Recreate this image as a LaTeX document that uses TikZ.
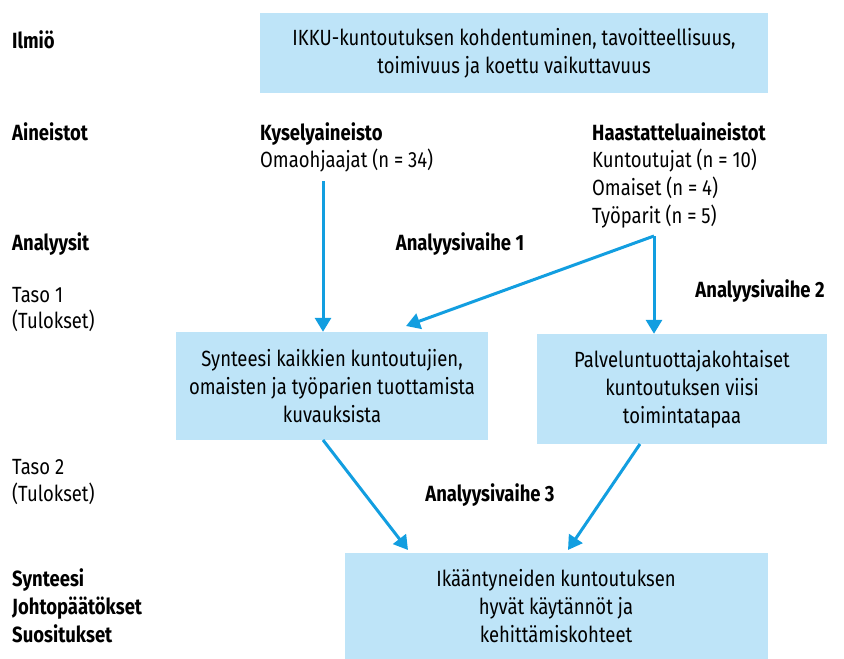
\documentclass[tikz,border=0pt]{standalone}
\usepackage{fontspec}
\setmainfont[FakeStretch=0.84]{Fira Sans}
\usetikzlibrary{arrows.meta}
\definecolor{boxblue}{RGB}{190,228,248}
\definecolor{arrowblue}{RGB}{18,158,224}
\tikzset{
  txt/.style={font=\fontsize{22}{28}\selectfont, inner sep=0pt, anchor=base west},
  btxt/.style={txt, font=\fontsize{22}{28}\selectfont\bfseries},
  bluebox/.style={fill=boxblue, draw=none, align=center, inner sep=0pt, font=\fontsize{22}{28}\selectfont},
  arr/.style={draw=arrowblue, line width=3pt, -{Triangle[width=16pt,length=14pt]}},
  ln/.style={draw=arrowblue, line width=3pt}
}
\begin{document}
\begin{tikzpicture}[x=1pt,y=-1pt]
\useasboundingbox (0,0) rectangle (844,659);
% boxes
\node[bluebox, minimum width=508pt, minimum height=80pt] (top) at (514,53) {IKKU-kuntoutuksen kohdentuminen, tavoitteellisuus,\\toimivuus ja koettu vaikuttavuus};
\node[bluebox, minimum width=312pt, minimum height=108pt] (left) at (332,386) {Synteesi kaikkien kuntoutujien,\\omaisten ja työparien tuottamista\\kuvauksista};
\node[bluebox, minimum width=290pt, minimum height=110pt] (right) at (682,389) {Palveluntuottajakohtaiset\\kuntoutuksen viisi\\toimintatapaa};
\node[bluebox, minimum width=423pt, minimum height=106pt] (bottom) at (556,606) {Ikääntyneiden kuntoutuksen\\hyvät käytännöt ja\\kehittämiskohteet};
% left labels
\node[btxt] (ilmio) at (12,48) {Ilmiö};
\node[btxt] (aineistot) at (12,140) {Aineistot};
\node[btxt] (analyysit) at (12,250) {Analyysit};
\node[txt] (taso1) at (12,302) {Taso 1};
\node[txt] (tulokset1) at (12,328) {(Tulokset)};
\node[txt] (taso2) at (12,474) {Taso 2};
\node[txt] (tulokset2) at (12,501) {(Tulokset)};
\node[btxt] (synteesi) at (12,586) {Synteesi};
\node[btxt] (johto) at (12,614) {Johtopäätökset};
\node[btxt] (suos) at (12,642) {Suositukset};
% data
\node[btxt] (kysely) at (260,140) {Kyselyaineisto};
\node[txt] (omaoh) at (260,167) {Omaohjaajat (n = 34)};
\node[btxt] (haast) at (592,140) {Haastatteluaineistot};
\node[txt] (kunt) at (592,167) {Kuntoutujat (n = 10)};
\node[txt] (omaiset) at (592,195) {Omaiset (n = 4)};
\node[txt] (tyoparit) at (592,223) {Työparit (n = 5)};
% phases
\node[btxt, anchor=base] (av1) at (460,250) {Analyysivaihe 1};
\node[btxt, anchor=base] (av2) at (760,297) {Analyysivaihe 2};
\node[btxt, anchor=base] (av3) at (490,501) {Analyysivaihe 3};
% connectors
\coordinate (kstart) at (323,181);
\coordinate (branch) at (654,236);
\coordinate (lin) at (406,326);
\draw[arr] (kstart) -- (kstart |- left.north);
\draw[arr] (branch) -- (lin);
\draw[arr] (branch) -- (branch |- right.north);
\coordinate (l3) at (323,440);
\coordinate (r3) at (640,444);
\draw[arr] (l3) -- (408,550);
\draw[arr] (r3) -- (568,550);
\end{tikzpicture}
\end{document}
